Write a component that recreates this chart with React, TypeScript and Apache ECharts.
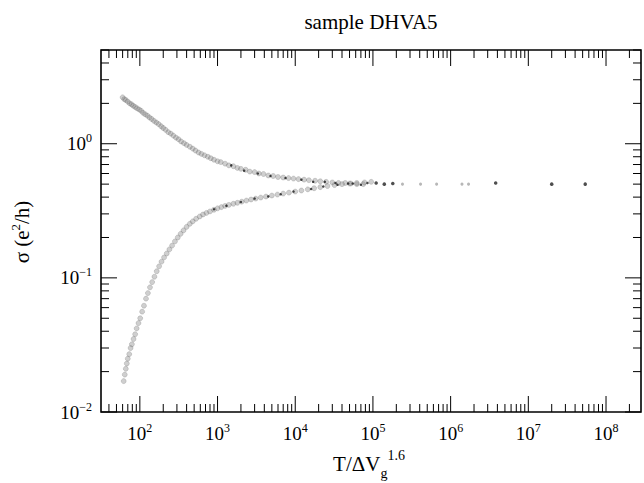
import React, { useEffect, useRef } from 'react';
import * as echarts from 'echarts';

// ---- data ----
const titleText = 'sample DHVA5';
const xTickExponents = [2, 3, 4, 5, 6, 7, 8];
const yTickExponents = [-2, -1, 0];
const xRange = [31.6, 2.82e8];
const yRange = [0.01, 5];

// upper branch (sigma decreasing with T/dV^1.6)
const upperBranch: [number, number][] = [
  [60, 2.22], [63, 2.15], [66, 2.12], [70, 2.06], [74, 2.0], [78, 1.97], [82, 1.92], [87, 1.88],
  [92, 1.84], [98, 1.8], [104, 1.76], [110, 1.7], [117, 1.66], [125, 1.62], [133, 1.57], [142, 1.53],
  [152, 1.48], [163, 1.44], [175, 1.4], [188, 1.35], [200, 1.31], [215, 1.27], [232, 1.22], [250, 1.19],
  [270, 1.15], [292, 1.11], [315, 1.08], [340, 1.04], [370, 1.01], [400, 0.98], [440, 0.95], [480, 0.92],
  [520, 0.89], [570, 0.86], [620, 0.84], [680, 0.82], [750, 0.8], [820, 0.78], [900, 0.76], [1000, 0.74],
  [1100, 0.73], [1250, 0.71], [1400, 0.69], [1600, 0.68], [1800, 0.66], [2000, 0.65], [2300, 0.64],
  [2600, 0.62], [3000, 0.615], [3400, 0.6], [3900, 0.595], [4500, 0.58], [5200, 0.575], [6000, 0.565],
  [7000, 0.56], [8200, 0.555], [9500, 0.55], [11000, 0.545], [13000, 0.54], [15000, 0.535], [18000, 0.53],
  [21000, 0.525], [25000, 0.52], [30000, 0.515], [36000, 0.51], [44000, 0.51], [52000, 0.505],
  [62000, 0.5], [75000, 0.5],
];

// lower branch (sigma increasing with T/dV^1.6)
const lowerBranch: [number, number][] = [
  [62, 0.017], [64, 0.019], [66, 0.021], [68, 0.023], [70, 0.025], [73, 0.027], [76, 0.03], [79, 0.032],
  [83, 0.035], [87, 0.038], [91, 0.042], [96, 0.046], [101, 0.05], [107, 0.056], [113, 0.062], [120, 0.07],
  [127, 0.077], [135, 0.085], [144, 0.093], [154, 0.102], [165, 0.112], [177, 0.122], [190, 0.132],
  [205, 0.142], [222, 0.152], [240, 0.163], [260, 0.174], [283, 0.187], [308, 0.2], [335, 0.213],
  [365, 0.226], [400, 0.24], [440, 0.253], [480, 0.264], [530, 0.276], [590, 0.287], [650, 0.297],
  [720, 0.305], [800, 0.313], [900, 0.322], [1000, 0.33], [1120, 0.337], [1250, 0.344], [1400, 0.35],
  [1600, 0.357], [1800, 0.363], [2050, 0.37], [2350, 0.377], [2700, 0.384], [3100, 0.39], [3600, 0.397],
  [4200, 0.404], [5000, 0.411], [5900, 0.418], [7000, 0.425], [8300, 0.432], [10000, 0.44], [12000, 0.448],
  [14500, 0.457], [17500, 0.466], [21000, 0.475], [26000, 0.484], [32000, 0.492], [40000, 0.5],
  [50000, 0.505], [62000, 0.51], [78000, 0.515], [95000, 0.52],
];

// darker, noisier points where the two branches approach each other
const darkSpecks: [number, number][] = [
  [1500, 0.69], [2200, 0.63], [3300, 0.6], [4800, 0.575], [7500, 0.555], [12000, 0.54], [17000, 0.52],
  [24000, 0.52], [33000, 0.51], [48000, 0.505], [70000, 0.495],
  [900, 0.325], [1300, 0.345], [2000, 0.368], [3000, 0.39], [4500, 0.405], [6500, 0.42], [9500, 0.44],
  [16000, 0.46], [23000, 0.48], [35000, 0.495], [55000, 0.505], [85000, 0.51],
];

// sparse converged points at large T/dV^1.6
const tailDark: [number, number][] = [
  [1.1e5, 0.51], [1.4e5, 0.5], [1.8e5, 0.505], [3.8e6, 0.51], [2.0e7, 0.5], [5.4e7, 0.5],
];
const tailFaint: [number, number][] = [
  [2.4e5, 0.5], [4.1e5, 0.5], [6.6e5, 0.5], [1.4e6, 0.5], [1.7e6, 0.5],
];

const FONT = '"Liberation Serif", "Times New Roman", serif';

const lg = (v: number) => Math.log10(v);
const toLog = (arr: [number, number][]) => arr.map(([x, y]) => [lg(x), lg(y)]);

function buildTicks(lo: number, hi: number) {
  const out: [number, number][] = [];
  for (let k = Math.floor(lo) - 1; k <= Math.ceil(hi); k++) {
    for (let m = 1; m <= 9; m++) {
      const v = k + Math.log10(m);
      if (v >= lo - 1e-9 && v <= hi + 1e-9) out.push([v, m === 1 ? 1 : 0]);
    }
  }
  return out;
}

const supDigits = (n: number) => (n < 0 ? '\u2212' + Math.abs(n) : String(n));

export default function App() {
  const ref = useRef<HTMLDivElement>(null);
  useEffect(() => {
    document.body.style.margin = '0';
    if (!ref.current) return;
    const chart = echarts.init(ref.current, undefined, { renderer: 'svg' });
    const xMin = lg(xRange[0]);
    const xMax = lg(xRange[1]);
    const yMin = lg(yRange[0]);
    const yMax = lg(yRange[1]);
    const xTicks = buildTicks(xMin, xMax).map(([v, m]) => [v, yMin, m]);
    const yTicks = buildTicks(yMin, yMax).map(([v, m]) => [xMin, v, m]);

    const labelFormatter = (exps: number[]) => (v: number) => {
      const r = Math.round(v);
      if (Math.abs(v - r) < 1e-6 && exps.includes(r)) return '10{sup|' + supDigits(r) + '}';
      return '';
    };
    const rich = {
      sup: { fontSize: 12, fontFamily: FONT, verticalAlign: 'top', lineHeight: 23, color: '#000' },
    };
    const lineStyle = { stroke: '#000', lineWidth: 1 };
    const bandStyle = { color: 'rgba(135,135,135,0.5)', borderColor: 'rgba(50,50,50,0.35)', borderWidth: 0.6 };

    chart.setOption({
      animation: false,
      backgroundColor: '#fff',
      grid: { left: 101, right: 3, top: 50, bottom: 71, show: true, borderColor: '#000', borderWidth: 1.6 },
      xAxis: {
        type: 'value', min: 1.5, max: xMax, interval: 0.5,
        axisLine: { show: false }, axisTick: { show: false }, splitLine: { show: false },
        axisLabel: {
          formatter: labelFormatter(xTickExponents), rich, margin: 10,
          fontSize: 19, fontFamily: FONT, color: '#000', lineHeight: 23,
          showMinLabel: true, showMaxLabel: true, hideOverlap: false,
        },
      },
      yAxis: {
        type: 'value', min: -2, max: yMax, interval: 1,
        axisLine: { show: false }, axisTick: { show: false }, splitLine: { show: false },
        axisLabel: {
          formatter: labelFormatter(yTickExponents), rich, margin: 9,
          fontSize: 19, fontFamily: FONT, color: '#000', lineHeight: 23,
        },
      },
      series: [
        { type: 'scatter', data: toLog(upperBranch), symbol: 'circle', symbolSize: 5, itemStyle: bandStyle },
        { type: 'scatter', data: toLog(lowerBranch), symbol: 'circle', symbolSize: 5, itemStyle: bandStyle },
        {
          type: 'scatter', data: toLog(darkSpecks), symbol: 'circle', symbolSize: 2.5,
          itemStyle: { color: '#1a1a1a' },
        },
        {
          type: 'scatter', data: toLog(tailDark), symbol: 'circle', symbolSize: 3.5,
          itemStyle: { color: '#222' },
        },
        {
          type: 'scatter', data: toLog(tailFaint), symbol: 'circle', symbolSize: 3,
          itemStyle: { color: 'rgba(90,90,90,0.55)' },
        },
        {
          type: 'custom', data: xTicks, clip: false, silent: true,
          renderItem: (params: any, api: any) => {
            const px = api.coord([api.value(0), yMin])[0];
            const cs = params.coordSys;
            const len = api.value(2) === 1 ? 16 : 8;
            const b = cs.y + cs.height;
            return {
              type: 'group',
              children: [
                { type: 'line', shape: { x1: px, y1: b, x2: px, y2: b - len }, style: lineStyle },
                { type: 'line', shape: { x1: px, y1: cs.y, x2: px, y2: cs.y + len }, style: lineStyle },
              ],
            };
          },
        },
        {
          type: 'custom', data: yTicks, clip: false, silent: true,
          renderItem: (params: any, api: any) => {
            const py = api.coord([xMin, api.value(1)])[1];
            const cs = params.coordSys;
            const len = api.value(2) === 1 ? 16 : 8;
            const r = cs.x + cs.width;
            return {
              type: 'group',
              children: [
                { type: 'line', shape: { x1: cs.x, y1: py, x2: cs.x + len, y2: py }, style: lineStyle },
                { type: 'line', shape: { x1: r, y1: py, x2: r - len, y2: py }, style: lineStyle },
              ],
            };
          },
        },
      ],
      graphic: [
        {
          type: 'text', x: 371, y: 22,
          style: {
            text: titleText, fontSize: 21, fontFamily: FONT, fill: '#000',
            align: 'center', verticalAlign: 'middle', textAlign: 'center', textVerticalAlign: 'middle',
          },
        },
        {
          type: 'text', x: 369, y: 464,
          style: {
            text: 'T/\u0394V{sub|g}{sup|1.6}', fontSize: 21, fontFamily: FONT, fill: '#000', lineHeight: 32,
            align: 'center', verticalAlign: 'middle', textAlign: 'center', textVerticalAlign: 'middle',
            rich: {
              sub: { fontSize: 14, fontFamily: FONT, verticalAlign: 'bottom', lineHeight: 32, fill: '#000' },
              sup: { fontSize: 14, fontFamily: FONT, verticalAlign: 'top', lineHeight: 32, fill: '#000' },
            },
          },
        },
        {
          type: 'text', x: 22, y: 232, rotation: Math.PI / 2,
          style: {
            text: '\u03C3 (e{sup|2}/h)', fontSize: 21, fontFamily: FONT, fill: '#000', lineHeight: 26,
            align: 'center', verticalAlign: 'middle', textAlign: 'center', textVerticalAlign: 'middle',
            rich: {
              sup: { fontSize: 13, fontFamily: FONT, verticalAlign: 'top', lineHeight: 26, fill: '#000' },
            },
          },
        },
      ],
    });
    return () => chart.dispose();
  }, []);
  return <div ref={ref} style={{ width: 644, height: 483 }} />;
}
